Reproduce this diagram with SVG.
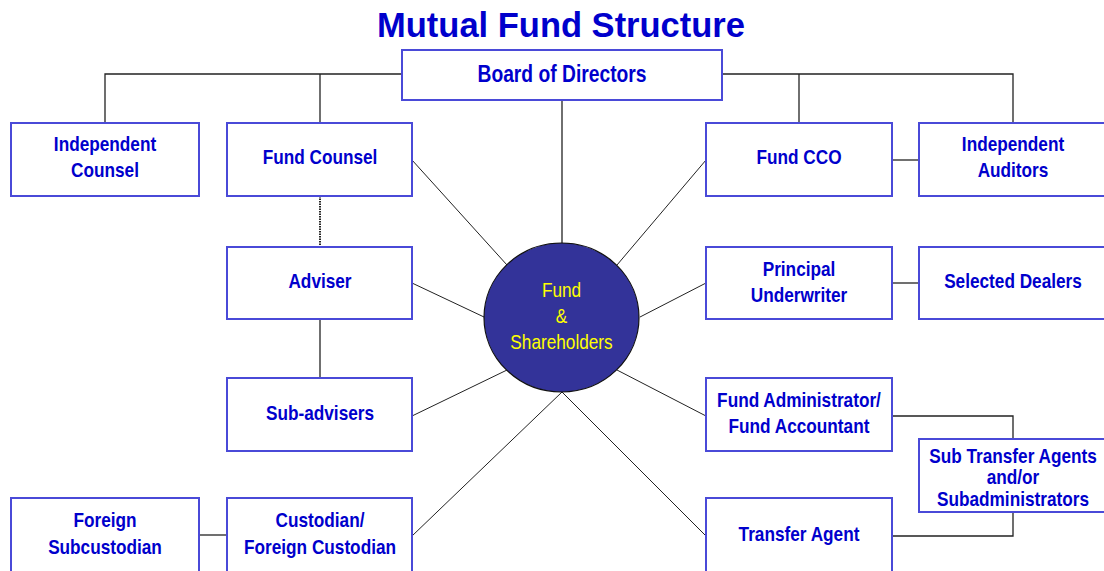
<svg xmlns="http://www.w3.org/2000/svg" width="1104" height="571" viewBox="0 0 1104 571">
<style>
.box{fill:#fff;stroke:#4a4ad8;stroke-width:2}
.lbl{font-family:"Liberation Sans",Arial,sans-serif;font-weight:bold;font-size:21px;fill:#0000cc;text-anchor:middle}
.ctr{font-family:"Liberation Sans",Arial,sans-serif;font-size:21px;fill:#ffff00;text-anchor:middle}
.ln{stroke:#222;stroke-width:1.3;fill:none}
.rl{stroke:#222;stroke-width:1;fill:none}
</style>
<rect width="1104" height="571" fill="#fff"/>
<text x="561" y="37" style="font-family:'Liberation Sans',Arial,sans-serif;font-weight:bold;font-size:34.5px;fill:#0000cc" text-anchor="middle">Mutual Fund Structure</text>
<g id="connectors">
<polyline class="ln" points="402,74 105,74 105,123"/>
<line class="ln" x1="320" y1="74" x2="320" y2="123"/>
<polyline class="ln" points="722,74 1013,74 1013,123"/>
<line class="ln" x1="799" y1="74" x2="799" y2="123"/>
<line class="ln" x1="892" y1="160" x2="919" y2="160"/>
<line class="ln" x1="892" y1="283" x2="919" y2="283"/>
<polyline class="ln" points="892,416 1013,416 1013,439"/>
<polyline class="ln" points="892,536 1013,536 1013,512"/>
<line class="ln" x1="199" y1="535" x2="227" y2="535"/>
<line x1="320" y1="196" x2="320" y2="247" stroke="#222" stroke-width="2" stroke-dasharray="1.5,1"/>
<line class="ln" x1="320" y1="319" x2="320" y2="378"/>
<line class="ln" x1="562" y1="100" x2="562" y2="243"/>
<line class="rl" x1="412" y1="160" x2="507" y2="265"/>
<line class="rl" x1="706" y1="160" x2="617" y2="265"/>
<line class="rl" x1="412" y1="283" x2="484" y2="317"/>
<line class="rl" x1="706" y1="283" x2="640" y2="317"/>
<line class="rl" x1="412" y1="416" x2="507" y2="370"/>
<line class="rl" x1="706" y1="416" x2="617" y2="370"/>
<line class="rl" x1="412" y1="536" x2="562" y2="392"/>
<line class="rl" x1="706" y1="536" x2="562" y2="392"/>
</g>
<g id="board"><rect class="box" x="402" y="50" width="320" height="50"/><text class="lbl" transform="translate(562,0) scale(0.82,1)" x="0" y="82" style="font-size:23.5px">Board of Directors</text></g>
<g id="independent-counsel"><rect class="box" x="11" y="123" width="188" height="73"/><g transform="translate(105,0) scale(0.82,1)"><text class="lbl" x="0" y="151">Independent</text><text class="lbl" x="0" y="177">Counsel</text></g></g>
<g id="fund-counsel"><rect class="box" x="227" y="123" width="185" height="73"/><text class="lbl" transform="translate(320,0) scale(0.82,1)" x="0" y="164">Fund Counsel</text></g>
<g id="fund-cco"><rect class="box" x="706" y="123" width="186" height="73"/><text class="lbl" transform="translate(799,0) scale(0.82,1)" x="0" y="164">Fund CCO</text></g>
<g id="independent-auditors"><rect class="box" x="919" y="123" width="190" height="73"/><g transform="translate(1013,0) scale(0.82,1)"><text class="lbl" x="0" y="151">Independent</text><text class="lbl" x="0" y="177">Auditors</text></g></g>
<g id="adviser"><rect class="box" x="227" y="247" width="185" height="72"/><text class="lbl" transform="translate(320,0) scale(0.82,1)" x="0" y="288">Adviser</text></g>
<g id="principal-underwriter"><rect class="box" x="706" y="247" width="186" height="72"/><g transform="translate(799,0) scale(0.82,1)"><text class="lbl" x="0" y="276">Principal</text><text class="lbl" x="0" y="302">Underwriter</text></g></g>
<g id="selected-dealers"><rect class="box" x="919" y="247" width="190" height="72"/><text class="lbl" transform="translate(1013,0) scale(0.82,1)" x="0" y="288">Selected Dealers</text></g>
<g id="sub-advisers"><rect class="box" x="227" y="378" width="185" height="73"/><text class="lbl" transform="translate(320,0) scale(0.82,1)" x="0" y="420">Sub-advisers</text></g>
<g id="fund-administrator"><rect class="box" x="706" y="378" width="186" height="73"/><g transform="translate(799,0) scale(0.82,1)"><text class="lbl" x="0" y="407">Fund Administrator/</text><text class="lbl" x="0" y="433">Fund Accountant</text></g></g>
<g id="sub-transfer-agents"><rect class="box" x="919" y="439" width="190" height="73"/><g transform="translate(1013,0) scale(0.82,1)"><text class="lbl" x="0" y="463">Sub Transfer Agents</text><text class="lbl" x="0" y="484">and/or</text><text class="lbl" x="0" y="506">Subadministrators</text></g></g>
<g id="foreign-subcustodian"><rect class="box" x="11" y="498" width="188" height="80"/><g transform="translate(105,0) scale(0.82,1)"><text class="lbl" x="0" y="527">Foreign</text><text class="lbl" x="0" y="554">Subcustodian</text></g></g>
<g id="custodian"><rect class="box" x="227" y="498" width="185" height="80"/><g transform="translate(320,0) scale(0.82,1)"><text class="lbl" x="0" y="527">Custodian/</text><text class="lbl" x="0" y="554">Foreign Custodian</text></g></g>
<g id="transfer-agent"><rect class="box" x="706" y="498" width="186" height="80"/><text class="lbl" transform="translate(799,0) scale(0.82,1)" x="0" y="541">Transfer Agent</text></g>
<g id="fund-shareholders"><ellipse cx="561.5" cy="317.5" rx="77.5" ry="74.5" fill="#333399" stroke="#111" stroke-width="1.2"/><g transform="translate(561.5,0) scale(0.82,1)"><text class="ctr" x="0" y="297">Fund</text><text class="ctr" x="0" y="323">&amp;</text><text class="ctr" x="0" y="349">Shareholders</text></g></g>
</svg>
